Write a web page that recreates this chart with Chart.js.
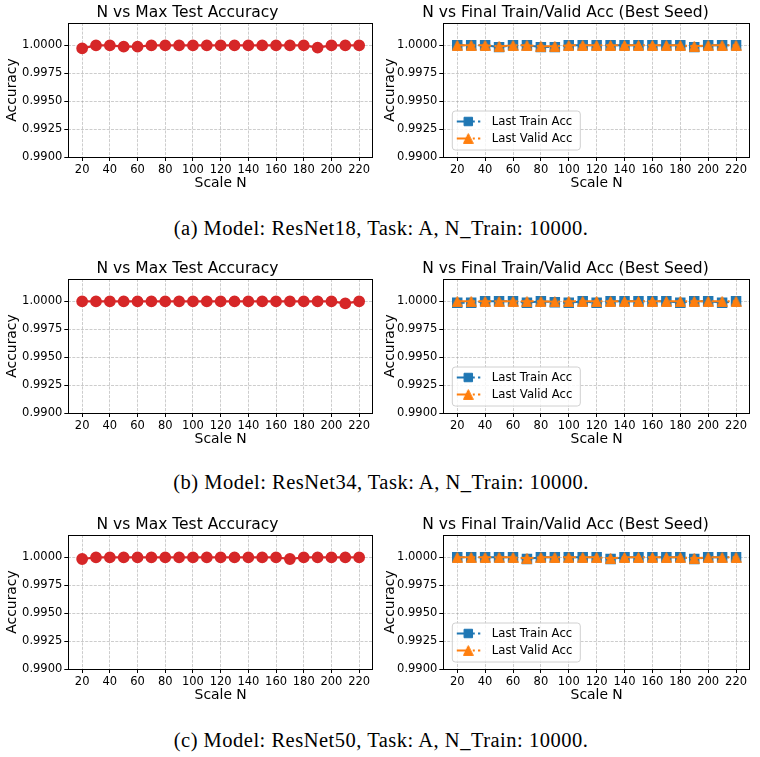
<!DOCTYPE html>
<html><head><meta charset="utf-8">
<script src="https://cdn.jsdelivr.net/npm/chart.js@4.4.1/dist/chart.umd.min.js"></script>
<style>
body{margin:0;background:#fff;width:760px;height:757px;position:relative;overflow:hidden;}
canvas{position:absolute;}
.cap{position:absolute;left:0;width:762px;text-align:center;font-family:"Liberation Serif",serif;font-size:20.5px;letter-spacing:0.5px;color:#000;line-height:20px;white-space:nowrap;}
</style></head><body>
<canvas id="L0" width="380" height="194" style="left:0px;top:3px"></canvas>
<canvas id="R0" width="380" height="194" style="left:378px;top:3px"></canvas>
<canvas id="L1" width="380" height="194" style="left:0px;top:259.3px"></canvas>
<canvas id="R1" width="380" height="194" style="left:378px;top:259.3px"></canvas>
<canvas id="L2" width="380" height="194" style="left:0px;top:515px"></canvas>
<canvas id="R2" width="380" height="194" style="left:378px;top:515px"></canvas>
<div class="cap" id="cap0" style="top:218px"></div>
<div class="cap" id="cap1" style="top:472px"></div>
<div class="cap" id="cap2" style="top:730px"></div>
<script>
const scaleN = [20,30,40,50,60,70,80,90,100,110,120,130,140,150,160,170,180,190,200,210,220];
const xTicks = [20,40,60,80,100,120,140,160,180,200,220];
const yTicks = [0.99,0.9925,0.995,0.9975,1.0];

const testAccA  = [0.99973,1,1,0.99988,0.99988,1,1,1,1,1,1,1,1,1,1,1,1,0.9998,1,1,1];
const trainAccA = [1,1,1,0.99984,1,1,0.99984,0.99984,1,1,1,1,1,1,1,1,1,0.99984,1,1,1];
const validAccA = [1,1,1,0.99992,1,1,0.99992,0.99992,1,1,1,1,1,1,1,1,1,0.99992,1,1,1];

const testAccB  = [1,1,1,1,1,1,1,1,1,1,1,1,1,1,1,1,1,1,1,0.99982,1];
const trainAccB = [0.99988,0.99988,1,1,1,0.99988,1,0.99992,0.99988,1,0.99988,1,1,1,1,1,0.99988,1,1,0.99988,1];
const validAccB = [1,1,1,1,1,1,1,0.99996,1,1,1,1,1,1,1,1,1,1,1,1,1];

const testAccC  = [0.99985,1,1,1,1,1,1,1,1,1,1,1,1,1,1,0.99985,1,1,1,1,1];
const trainAccC = [1,1,1,1,1,0.99985,1,1,1,1,1,0.99985,1,1,1,1,1,0.99985,1,1,1];
const validAccC = [1,1,1,1,1,0.99992,1,1,1,1,1,0.99992,1,1,1,1,1,0.99992,1,1,1];

const leftTitle = 'N vs Max Test Accuracy';
const rightTitle = 'N vs Final Train/Valid Acc (Best Seed)';
const xLabel = 'Scale N';
const yLabel = 'Accuracy';
const trainLabel = 'Last Train Acc';
const validLabel = 'Last Valid Acc';
const captions = [
  '(a) Model: ResNet18, Task: A, N_Train: 10000.',
  '(b) Model: ResNet34, Task: A, N_Train: 10000.',
  '(c) Model: ResNet50, Task: A, N_Train: 10000.'
];

const FONT = "'DejaVu Sans', sans-serif";
const GRID = 'rgba(150,150,150,0.6)';

// matplotlib-style '^' marker (bbox-centred triangle)
const triImg = (function(){
  const c = document.createElement('canvas'); c.width = 11; c.height = 11;
  const g = c.getContext('2d');
  g.fillStyle = '#ff7f0e'; g.strokeStyle = '#ff7f0e'; g.lineWidth = 1;
  g.beginPath(); g.moveTo(5.5,0.6); g.lineTo(0.6,10.4); g.lineTo(10.4,10.4); g.closePath(); g.fill(); g.stroke();
  return c;
})();

const framePlugin = {
  id:'frame',
  afterDraw(chart){
    const a = chart.chartArea, ctx = chart.ctx;
    ctx.save();
    ctx.strokeStyle = '#000'; ctx.lineWidth = 1;
    ctx.strokeRect(Math.round(a.left)+0.5, Math.round(a.top)+0.5, Math.round(a.right-a.left)-1, Math.round(a.bottom-a.top));
    ctx.restore();
  }
};

const legendPlugin = {
  id:'mplLegend',
  afterDraw(chart, args, opts){
    if(!opts || !opts.show) return;
    const a = chart.chartArea, ctx = chart.ctx;
    const bw = 128, bh = 39;
    const bx = a.left + 9, by = a.bottom - 7 - bh;
    ctx.save();
    ctx.beginPath();
    const r = 3;
    ctx.moveTo(bx+r,by); ctx.lineTo(bx+bw-r,by); ctx.quadraticCurveTo(bx+bw,by,bx+bw,by+r);
    ctx.lineTo(bx+bw,by+bh-r); ctx.quadraticCurveTo(bx+bw,by+bh,bx+bw-r,by+bh);
    ctx.lineTo(bx+r,by+bh); ctx.quadraticCurveTo(bx,by+bh,bx,by+bh-r);
    ctx.lineTo(bx,by+r); ctx.quadraticCurveTo(bx,by,bx+r,by); ctx.closePath();
    ctx.fillStyle = 'rgba(255,255,255,0.8)'; ctx.fill();
    ctx.strokeStyle = '#d0d0d0'; ctx.lineWidth = 1; ctx.stroke();
    chart.data.datasets.forEach((ds,i)=>{
      const y = by + 10.5 + i*17;
      ctx.beginPath();
      ctx.setLineDash(ds.borderDash || []);
      ctx.strokeStyle = ds.borderColor; ctx.lineWidth = ds.borderWidth;
      ctx.moveTo(bx+4.5,y); ctx.lineTo(bx+28,y); ctx.stroke();
      ctx.setLineDash([]);
      ctx.fillStyle = ds.pointBackgroundColor; ctx.strokeStyle = ds.pointBorderColor; ctx.lineWidth = 1;
      Chart.helpers.drawPoint(ctx, {pointStyle: ds.pointStyle, radius: ds.pointRadius, rotation:0, borderWidth:1}, bx+16, y);
      ctx.fillStyle = '#000';
      ctx.font = "11.7px " + FONT;
      ctx.textBaseline = 'middle'; ctx.textAlign = 'left';
      ctx.fillText(ds.label, bx+39.5, y+0.5);
    });
    ctx.restore();
  }
};

function pts(arr){ return scaleN.map((n,i)=>({x:n, y:arr[i]})); }

function makeOptions(title, yWidth, yTitlePad, showLegend){
  const grid = {color:GRID, lineWidth:0.8, borderDash:[3,1.3], tickColor:'#000', tickLength:4, tickBorderDash:[], tickWidth:1};
  const border = {display:false, dash:[3,1.3]};
  return {
    responsive:false, animation:false, devicePixelRatio:1,
    layout:{padding:{left:0,right:5,top:0,bottom:0}},
    plugins:{
      legend:{display:false}, tooltip:{enabled:false},
      title:{display:true, text:title, color:'#000', font:{family:FONT, size:15.5, weight:'normal', lineHeight:'18px'}, padding:{top:1,bottom:1}},
      mplLegend:{show:showLegend}
    },
    scales:{
      x:{type:'linear', min:10, max:230,
        afterBuildTicks:(s)=>{ s.ticks = xTicks.map(v=>({value:v})); },
        afterFit:(s)=>{ s.height = 40; },
        ticks:{color:'#000', font:{family:FONT,size:11.5}, padding:2, maxRotation:0, autoSkip:false, callback:(v)=>String(v)},
        grid: grid, border: border,
        title:{display:true, text:xLabel, color:'#000', font:{family:FONT,size:13.9,lineHeight:1.2}, padding:{top:0,bottom:5.5}}
      },
      y:{type:'linear', min:0.99, max:1.002,
        afterBuildTicks:(s)=>{ s.ticks = yTicks.map(v=>({value:v})); },
        afterFit:(s)=>{ s.width = yWidth; },
        ticks:{color:'#000', font:{family:FONT,size:11.5}, padding:2, callback:(v)=>Number(v).toFixed(4)},
        grid: grid, border: border,
        title:{display:true, text:yLabel, color:'#000', font:{family:FONT,size:13.9,lineHeight:1.2}, padding:{top:yTitlePad,bottom:0}}
      }
    }
  };
}

function leftChart(id, test){
  new Chart(document.getElementById(id), {
    type:'line',
    data:{datasets:[{label:'Max Test Acc', data:pts(test), borderColor:'#d62728', backgroundColor:'#d62728',
      pointBackgroundColor:'#d62728', pointBorderColor:'#d62728', borderWidth:2.2, pointRadius:4.8, pointStyle:'circle', tension:0}]},
    options: makeOptions(leftTitle, 68.3, 4, false),
    plugins:[framePlugin, legendPlugin]
  });
}
function rightChart(id, train, valid){
  new Chart(document.getElementById(id), {
    type:'line',
    data:{datasets:[
      {label:trainLabel, data:pts(train), order:1, borderColor:'#1f77b4', backgroundColor:'#1f77b4', pointBackgroundColor:'#1f77b4', pointBorderColor:'#1f77b4',
       borderWidth:2, borderDash:[7.4,3.2], pointRadius:6, pointStyle:'rect', tension:0},
      {label:validLabel, data:pts(valid), order:0, borderColor:'#ff7f0e', backgroundColor:'#ff7f0e', pointBackgroundColor:'#ff7f0e', pointBorderColor:'#ff7f0e',
       borderWidth:2, borderDash:[12.8,3.2,2,3.2], pointRadius:5.5, pointStyle:triImg, tension:0}
    ]},
    options: makeOptions(rightTitle, 65.3, 3.7, true),
    plugins:[framePlugin, legendPlugin]
  });
}

leftChart('L0', testAccA); rightChart('R0', trainAccA, validAccA);
leftChart('L1', testAccB); rightChart('R1', trainAccB, validAccB);
leftChart('L2', testAccC); rightChart('R2', trainAccC, validAccC);
captions.forEach((t,i)=>{ document.getElementById('cap'+i).textContent = t; });
</script>
</body></html>
